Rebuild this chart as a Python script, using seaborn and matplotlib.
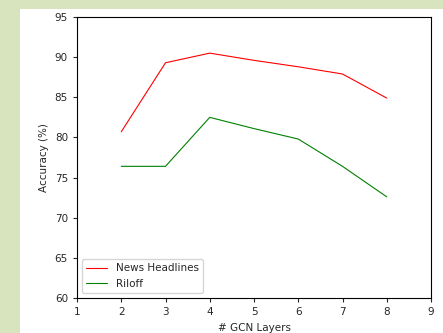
import matplotlib
matplotlib.use("Agg")
import matplotlib.pyplot as plt
import seaborn as sns
import pandas as pd
from matplotlib.patches import Rectangle

layers = [2, 3, 4, 5, 6, 7, 8]
news_headlines = [80.7, 89.3, 90.5, 89.6, 88.8, 87.9, 84.9]
riloff = [76.4, 76.4, 82.5, 81.1, 79.8, 76.4, 72.6]
series_names = ["News Headlines", "Riloff"]
xticks = [1, 2, 3, 4, 5, 6, 7, 8, 9]
yticks = [60, 65, 70, 75, 80, 85, 90, 95]

df = pd.DataFrame({
    "layers": layers * 2,
    "acc": news_headlines + riloff,
    "series": [series_names[0]] * len(layers) + [series_names[1]] * len(layers),
})

sns.set_style("ticks")
plt.rcParams['font.family'] = ['DejaVu Sans']

W, H = 443, 333
fig = plt.figure(figsize=(W / 100, H / 100), dpi=100, facecolor="#d7e4bd")
fig.patches.append(Rectangle((20 / W, 0), 1 - 20 / W, 1 - 9 / H,
                             transform=fig.transFigure, facecolor="white",
                             edgecolor="none", zorder=-10))
ax = fig.add_axes([77 / W, 1 - 298 / H, (431 - 77) / W, (298 - 17) / H])
sns.lineplot(data=df, x="layers", y="acc", hue="series",
             palette=["red", "green"], linewidth=0.8, ax=ax)
ax.set_xlim(1, 9)
ax.set_ylim(60, 95)
ax.set_xticks(xticks)
ax.set_yticks(yticks)
ax.tick_params(labelsize=7.5, length=3, width=0.8)
ax.set_xlabel("# GCN Layers", fontsize=7.5)
ax.set_ylabel("Accuracy (%)", fontsize=7.5)
for s in ax.spines.values():
    s.set_visible(True)
    s.set_linewidth(0.8)
    s.set_color("black")
ax.legend(loc="lower left", fontsize=7.5, title=None, frameon=True)
fig.savefig("out.png", dpi=100, facecolor=fig.get_facecolor())
